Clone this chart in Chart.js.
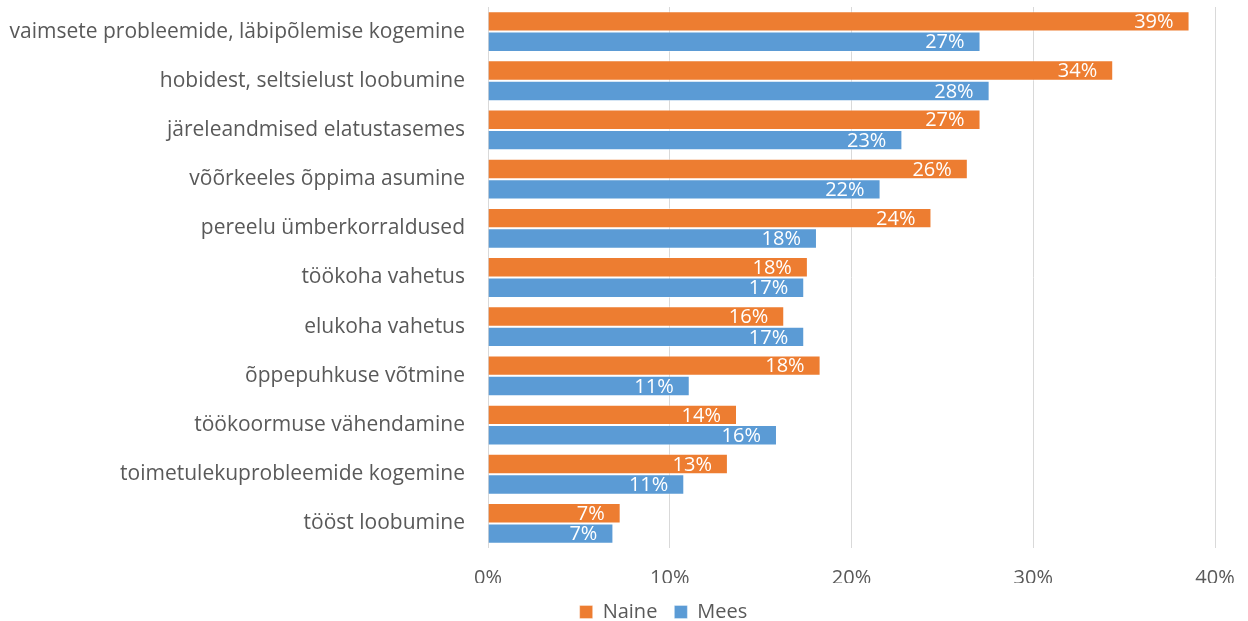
<!DOCTYPE html>
<html>
<head>
<meta charset="utf-8">
<script src="https://cdn.jsdelivr.net/npm/chart.js@4.4.1/dist/chart.umd.min.js"></script>
<style>
html,body{margin:0;padding:0;background:#fff;}
canvas{display:block;}
</style>
</head>
<body>
<canvas id="c" width="1248" height="621"></canvas>
<script>
const categories = [
  "vaimsete probleemide, läbipõlemise kogemine",
  "hobidest, seltsielust loobumine",
  "järeleandmised elatustasemes",
  "võõrkeeles õppima asumine",
  "pereelu ümberkorraldused",
  "töökoha vahetus",
  "elukoha vahetus",
  "õppepuhkuse võtmine",
  "töökoormuse vähendamine",
  "toimetulekuprobleemide kogemine",
  "tööst loobumine"
];
const naine = [38.6, 34.4, 27.1, 26.4, 24.4, 17.6, 16.3, 18.3, 13.7, 13.2, 7.3];
const mees  = [27.1, 27.6, 22.8, 21.6, 18.1, 17.4, 17.4, 11.1, 15.9, 10.8, 6.9];
const xTicks = [0, 10, 20, 30, 40];

const FONT = "'Open Sans', Lato, sans-serif";
const TXT = '#595959';

const labelPlugin = {
  id: 'barLabels',
  afterDatasetsDraw(chart) {
    const ctx = chart.ctx;
    ctx.save();
    ctx.font = '20px ' + FONT;
    ctx.fillStyle = '#ffffff';
    ctx.textAlign = 'right';
    ctx.textBaseline = 'middle';
    chart.data.datasets.forEach((ds, di) => {
      const meta = chart.getDatasetMeta(di);
      meta.data.forEach((bar, i) => {
        ctx.fillText(Math.round(ds.data[i]) + '%', bar.x - 16, bar.y + 1);
      });
    });
    ctx.restore();
  }
};

const legendShift = {
  id: 'legendShift',
  afterLayout(chart) {
    const lg = chart.legend;
    if (!lg) return;
    lg.top += 2; lg.bottom += 2;
    lg.left += 56; lg.right += 56;
  }
};

new Chart(document.getElementById('c'), {
  type: 'bar',
  data: {
    labels: categories,
    datasets: [
      { label: 'Naine', data: naine, backgroundColor: '#ED7D31',
        borderColor: 'rgba(255,255,255,0.45)', borderWidth: {top:1,bottom:1,right:1,left:0}, borderSkipped: 'start' },
      { label: 'Mees', data: mees, backgroundColor: '#5B9BD5',
        borderColor: 'rgba(255,255,255,0.45)', borderWidth: {top:1,bottom:1,right:1,left:0}, borderSkipped: 'start' }
    ]
  },
  options: {
    indexAxis: 'y',
    responsive: false,
    animation: false,
    devicePixelRatio: 1,
    layout: { padding: { top: 7, right: 33, left: 0, bottom: -9 } },
    datasets: { bar: { barPercentage: 1, categoryPercentage: 0.83 } },
    scales: {
      x: {
        min: 0, max: 40,
        afterBuildTicks(scale) { scale.ticks = xTicks.map(v => ({ value: v })); },
        afterFit(scale) { scale.height = 35; scale.paddingLeft = 0; scale.paddingRight = 0; },
        grid: { color: '#d9d9d9', lineWidth: 1, drawTicks: false },
        border: { display: false },
        ticks: { color: TXT, font: { size: 20, family: FONT }, padding: 18,
                 callback: v => v + '%' }
      },
      y: {
        afterFit(scale) { scale.width = 488; scale.paddingTop = 0; scale.paddingBottom = 0; },
        grid: { display: false, drawTicks: false },
        border: { display: false },
        ticks: { color: TXT, font: { size: 21, family: FONT }, padding: 23 }
      }
    },
    plugins: {
      legend: {
        position: 'bottom',
        labels: { color: TXT, font: { size: 20, family: FONT }, boxWidth: 13, boxHeight: 13, padding: 17 }
      },
      tooltip: { enabled: false }
    }
  },
  plugins: [labelPlugin, legendShift]
});
</script>
</body>
</html>
